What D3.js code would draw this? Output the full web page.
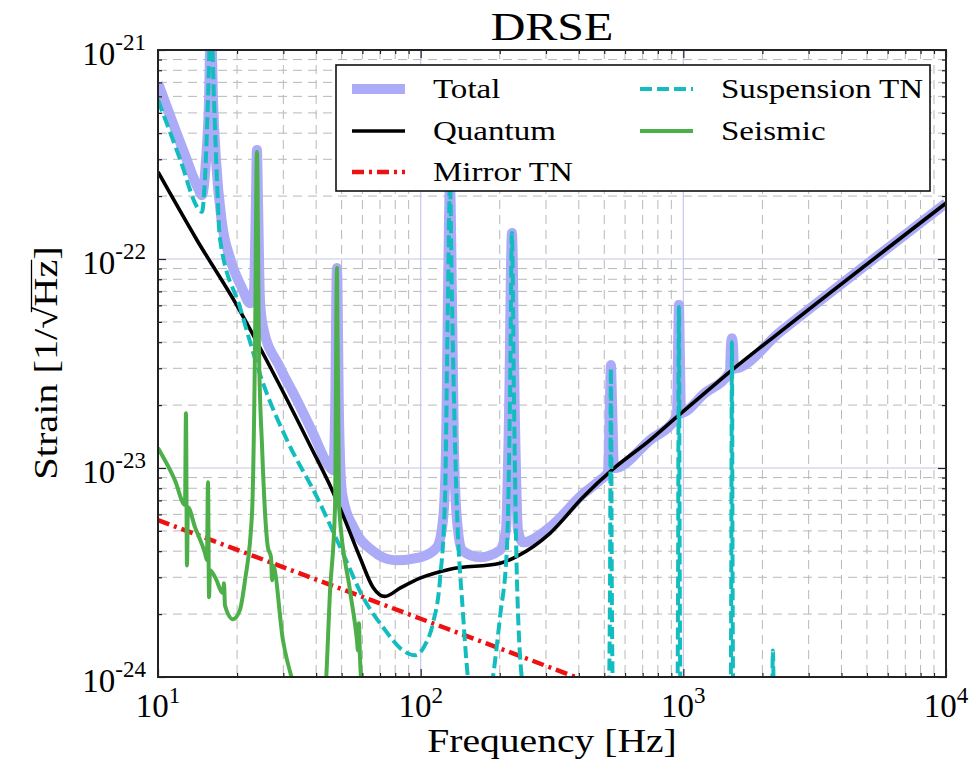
<!DOCTYPE html>
<html><head><meta charset="utf-8">
<script src="https://cdn.jsdelivr.net/npm/d3@7"></script>
<style>body{margin:0;background:#fff} svg text{font-family:"Liberation Serif","Times New Roman",serif;fill:#000}</style>
</head><body><svg id="c" width="980" height="763"></svg>
<script>
const title = "DRSE";
const xLabel = "Frequency [Hz]";
const xTicks = [10, 100, 1000, 10000];
const xTickExp = ["1", "2", "3", "4"];
const yTicks = [1e-24, 1e-23, 1e-22, 1e-21];
const yTickExp = ["-24", "-23", "-22", "-21"];
const seriesNames = ["Total", "Quantum", "Mirror TN", "Suspension TN", "Seismic"];

const total = [[10,6.95e-22],[12.67,3.14e-22],[14.2,2.18e-22],[14.7,2.02e-22],[15.23,2.97e-22],[15.64,5.76e-22],[15.9,1.5e-21],[16.2,5.76e-22],[16.63,2.97e-22],[17.5,1.5e-22],[18.8,1.01e-22],[20.88,7.26e-23],[22.4,6.15e-23],[23.2,7.1e-23],[23.6,1.91e-22],[23.8,3.32e-22],[24.03,1.91e-22],[24.45,6.36e-23],[25.1,4.72e-23],[29.1,3.04e-23],[33.8,2.11e-23],[38.9,1.47e-23],[44.0,1.055e-23],[46.4,9.76e-24],[47.2,1.69e-23],[48.0,9.05e-23],[48.9,1.69e-23],[50.2,7.57e-24],[56.2,5.04e-24],[65.3,4.04e-24],[79.9,3.62e-24],[99.4,3.74e-24],[115.4,4.18e-24],[121.6,5.63e-24],[124.9,1.22e-23],[127.0,6.36e-23],[129.3,2.3e-22],[131.6,6.36e-23],[133.9,1.22e-23],[137.5,5.63e-24],[143.6,4.04e-24],[168.2,3.74e-24],[200.4,4.04e-24],[211.2,5.04e-24],[216.8,1.69e-23],[222.6,1.33e-22],[228.5,1.69e-23],[234.7,5.04e-24],[245.2,4.41e-24],[310.6,5.21e-24],[414.8,7.5e-24],[481.5,8.74e-24],[516.6,9.55e-24],[525.6,2.11e-23],[530,3.11e-23],[535,2.11e-23],[544.4,9.98e-24],[746.4,1.36e-23],[945.6,1.77e-23],[953.9,3.28e-23],[962,6.02e-23],[971,3.28e-23],[979.3,1.83e-23],[1200,2.27e-23],[1504.9,2.89e-23],[1518,3.87e-23],[1531,4.18e-23],[1545,3.87e-23],[1558,2.99e-23],[2332,4.47e-23],[10000,1.85e-22]];

const quantum = [[10,2.61e-22],[14.08,1.23e-22],[19.64,6.22e-23],[28.4,2.63e-23],[37.9,1.285e-23],[46.4,7.66e-24],[51.5,5.63e-24],[58.7,3.74e-24],[65.8,2.69e-24],[73.1,2.43e-24],[83.4,2.66e-24],[99.4,2.97e-24],[129.3,3.28e-24],[200.4,3.5e-24],[232.6,3.78e-24],[310.6,4.87e-24],[414.8,7.25e-24],[539.5,9.87e-24],[746.4,1.36e-23],[971,1.81e-23],[1200,2.27e-23],[1531,2.94e-23],[2332,4.47e-23],[10000,1.85e-22]];

const mirrorTN = [[10,5.63e-24],[100,1.9e-24],[1000,6.4e-25]];

const suspensionTN = [[10,5.76e-22],[12.13,3.01e-22],[14.2,1.75e-22],[14.7,1.68e-22],[15.1,2.44e-22],[15.5,5.76e-22],[15.9,1.5e-21],[16.34,5.76e-22],[16.77,2.38e-22],[17.2,1.26e-22],[20.5,5.89e-23],[25.1,2.55e-23],[30.97,1.36e-23],[40.3,7.25e-24],[50.6,3.91e-24],[60.3,2.41e-24],[71.9,1.73e-24],[85.6,1.34e-24],[95.1,1.27e-24],[103.8,1.42e-24],[111.4,1.81e-24],[118.4,2.9e-24],[123.7,7.0e-24],[127.0,6.36e-23],[129.3,2.3e-22],[131.6,6.36e-23],[136.3,8.74e-24],[144.9,2.02e-24],[154.1,8e-25],[170,5e-25],[188.5,1e-24],[200.4,1.93e-24],[213.1,4.18e-24],[218.8,2.11e-23],[222.6,1.33e-22],[226.6,2.11e-23],[232.6,2.9e-24],[245.2,9e-25],[300,4e-25],[520,8e-25],[526,3e-24],[530,3.0e-23],[534,3e-24],[540,8e-25],[700,3e-25],[950,8e-25],[955,3e-24],[962,5.9e-23],[969,3e-24],[975,8e-25],[1200,3e-25],[1515,8e-25],[1522,3e-24],[1531,4.0e-23],[1540,3e-24],[1548,8e-25],[1900,3e-25],[2175,8e-25],[2193,1.34e-24],[2211,8e-25],[3000,2e-25],[10000,5e-26]];

const seismic = [[10,1.245e-23],[11.6,8.74e-24],[12.67,6.65e-24],[12.78,1.83e-23],[12.89,3.42e-24],[13.0,6.49e-24],[13.83,5.21e-24],[15.1,3.91e-24],[15.36,3.62e-24],[15.5,8.55e-24],[15.64,2.41e-24],[15.77,3.24e-24],[16.5,3.0e-24],[17.68,2.52e-24],[17.83,2.81e-24],[17.99,2.2e-24],[19.3,1.89e-24],[20.5,2.09e-24],[21.44,2.9e-24],[22.8,6.07e-24],[23.4,3.66e-23],[23.8,3.25e-22],[24.24,3.66e-23],[24.9,1.26e-23],[26.2,4.18e-24],[26.93,3.74e-24],[27.2,2.9e-24],[27.4,3.42e-24],[29.9,1.5e-24],[33.8,8e-25],[38,4e-25],[43.2,8e-25],[45.2,2.6e-24],[47.2,6.49e-24],[48.0,9.05e-23],[48.9,6.49e-24],[53.8,2.6e-24],[57.2,1.5e-24],[57.7,1.34e-24],[58.2,1.81e-24],[58.7,1.27e-24],[60.3,8e-25],[100,1e-25]];

const styles = [
  {data: total, color: "#ababf7", width: 10, dash: null},
  {data: quantum, color: "#000000", width: 3.6, dash: null},
  {data: mirrorTN, color: "#ee1111", width: 4.5, dash: "12,5,3,5"},
  {data: suspensionTN, color: "#13bdbf", width: 4, dash: "12,5"},
  {data: seismic, color: "#4daf4a", width: 4, dash: null}
];

const svg = d3.select("#c");
const M = {l:158, t:50, r:946, b:677};
const x = d3.scaleLog().domain([10, 1e4]).range([M.l, M.r]);
const y = d3.scaleLog().domain([1e-24, 1e-21]).range([M.b, M.t]);

const minorX = []; xTicks.slice(0, -1).forEach(d => { for (let k = 2; k < 10; k++) minorX.push(d * k); });
const minorY = []; yTicks.slice(0, -1).forEach(d => { for (let k = 2; k < 10; k++) minorY.push(d * k); });

// grid
const grid = svg.append("g");
grid.selectAll(".gmx").data(minorX).join("line")
  .attr("x1", d => x(d)).attr("x2", d => x(d)).attr("y1", M.t).attr("y2", M.b)
  .attr("stroke", "#b8b8b8").attr("stroke-width", 1).attr("stroke-dasharray", "9,6");
grid.selectAll(".gmy").data(minorY).join("line")
  .attr("y1", d => y(d)).attr("y2", d => y(d)).attr("x1", M.l).attr("x2", M.r)
  .attr("stroke", "#b8b8b8").attr("stroke-width", 1).attr("stroke-dasharray", "9,6");
grid.selectAll(".gMx").data(xTicks.slice(1, -1)).join("line")
  .attr("x1", d => x(d)).attr("x2", d => x(d)).attr("y1", M.t).attr("y2", M.b)
  .attr("stroke", "#c6c6ec").attr("stroke-width", 1.2);
grid.selectAll(".gMy").data(yTicks.slice(1, -1)).join("line")
  .attr("y1", d => y(d)).attr("y2", d => y(d)).attr("x1", M.l).attr("x2", M.r)
  .attr("stroke", "#c6c6ec").attr("stroke-width", 1.2);

// data
svg.append("clipPath").attr("id", "clip").append("rect")
  .attr("x", M.l).attr("y", M.t).attr("width", M.r - M.l).attr("height", M.b - M.t);
const line = d3.line().x(d => x(d[0])).y(d => y(d[1])).curve(d3.curveMonotoneX);
const plot = svg.append("g").attr("clip-path", "url(#clip)");
styles.forEach(s => {
  plot.append("path").attr("d", line(s.data)).attr("fill", "none")
    .attr("stroke", s.color).attr("stroke-width", s.width)
    .attr("stroke-linejoin", "round")
    .attr("stroke-dasharray", s.dash);
});

// axes ticks (inward)
function ticks(axis, tr) {
  const g = svg.append("g").attr("transform", tr).call(axis);
  g.select(".domain").remove();
  g.selectAll("line").attr("stroke", "#222").attr("stroke-width", 1.2);
  g.selectAll("text").remove();
}
ticks(d3.axisBottom(x).tickValues(xTicks).tickSize(-8), `translate(0,${M.b})`);
ticks(d3.axisBottom(x).tickValues(minorX).tickSize(-4), `translate(0,${M.b})`);
ticks(d3.axisTop(x).tickValues(xTicks).tickSize(-8), `translate(0,${M.t})`);
ticks(d3.axisTop(x).tickValues(minorX).tickSize(-4), `translate(0,${M.t})`);
ticks(d3.axisLeft(y).tickValues(yTicks).tickSize(-8), `translate(${M.l},0)`);
ticks(d3.axisLeft(y).tickValues(minorY).tickSize(-4), `translate(${M.l},0)`);
ticks(d3.axisRight(y).tickValues(yTicks).tickSize(-8), `translate(${M.r},0)`);
ticks(d3.axisRight(y).tickValues(minorY).tickSize(-4), `translate(${M.r},0)`);

svg.append("rect").attr("x", M.l).attr("y", M.t).attr("width", M.r - M.l).attr("height", M.b - M.t)
  .attr("fill", "none").attr("stroke", "#222").attr("stroke-width", 2);

// tick labels
xTicks.forEach((v, i) => {
  const t = svg.append("text").attr("x", x(v)).attr("y", M.b + 40).attr("text-anchor", "middle").attr("font-size", 33);
  t.append("tspan").text("10");
  t.append("tspan").attr("dy", -14).attr("font-size", 23).text(xTickExp[i]);
});
yTicks.forEach((v, i) => {
  const t = svg.append("text").attr("x", 146).attr("y", y(v) + 15).attr("text-anchor", "end").attr("font-size", 33);
  t.append("tspan").text("10");
  t.append("tspan").attr("dy", -15).attr("font-size", 23).text(yTickExp[i]);
});

function stretched(px, py, str, size, anchor, sx, rot) {
  const g = svg.append("g").attr("transform", `translate(${px},${py})` + (rot ? ` rotate(${rot})` : "") + ` scale(${sx},1)`);
  const t = g.append("text").attr("text-anchor", anchor).attr("font-size", size).text(str);
  return {g, t};
}
stretched(552, 40, title, 40, "middle", 1.2);
stretched(552, 752, xLabel, 33, "middle", 1.2);
const yl = stretched(57, 363, "Strain [1/\u221AHz]", 33, "middle", 1.22, -90);
{
  const n = yl.t.node();
  const s = n.getStartPositionOfChar(10).x + 0.75 * (n.getEndPositionOfChar(10).x - n.getStartPositionOfChar(10).x);
  const e = n.getEndPositionOfChar(12).x;
  yl.g.append("line").attr("x1", s).attr("x2", e).attr("y1", -25.5).attr("y2", -25.5)
    .attr("stroke", "#000").attr("stroke-width", 1.3);
}

// legend
const L = svg.append("g");
L.append("rect").attr("x", 336).attr("y", 65).attr("width", 594).attr("height", 126)
  .attr("fill", "#fff").attr("stroke", "#111").attr("stroke-width", 1.6);
const legPos = [[352, 89], [352, 131], [352, 172], [640, 89], [640, 131]];
styles.forEach((s, i) => {
  const [lx, ly] = legPos[i];
  L.append("line").attr("x1", lx).attr("x2", lx + 53).attr("y1", ly).attr("y2", ly)
    .attr("stroke", s.color).attr("stroke-width", s.width).attr("stroke-dasharray", s.dash);
  const g = L.append("g").attr("transform", `translate(${lx + 81},${ly + 9}) scale(1.18,1)`);
  g.append("text").attr("font-size", 28).text(seriesNames[i]);
});
</script></body></html>
